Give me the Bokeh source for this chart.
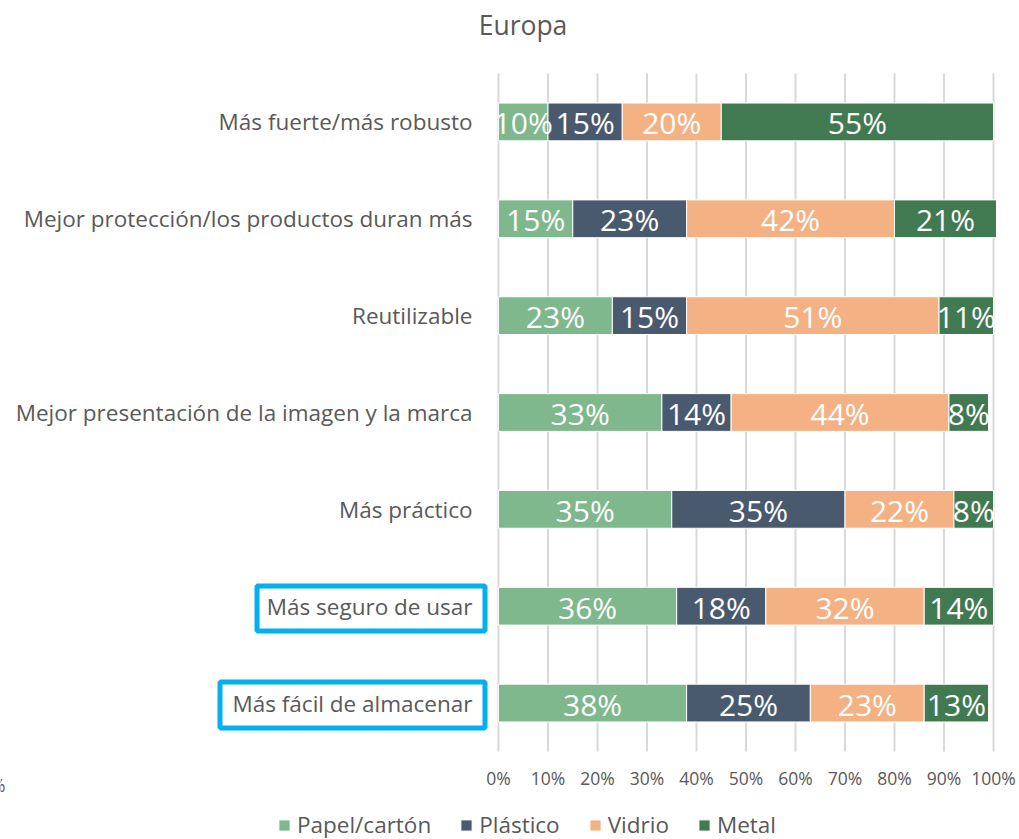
from bokeh.plotting import figure
from bokeh.models import Range1d, ColumnDataSource, Legend, LegendItem
from bokeh.embed import file_html
from bokeh.resources import INLINE
from bokeh.core.properties import value

# ---------------- data ----------------
categories = [
    "Más fuerte/más robusto",
    "Mejor protección/los productos duran más",
    "Reutilizable",
    "Mejor presentación de la imagen y la marca",
    "Más práctico",
    "Más seguro de usar",
    "Más fácil de almacenar",
]
papel = [10, 15, 23, 33, 35, 36, 38]
plastico = [15, 23, 15, 14, 35, 18, 25]
vidrio = [20, 42, 51, 44, 22, 32, 23]
metal = [55, 20.6, 11, 8, 8, 14, 13]
series_names = ["Papel/cartón", "Plástico", "Vidrio", "Metal"]
x_ticks = [0, 10, 20, 30, 40, 50, 60, 70, 80, 90, 100]
highlighted = ["Más seguro de usar", "Más fácil de almacenar"]
title_text = "Europa"

# ---------------- style / layout ----------------
colors = ["#7EB88C", "#495A6F", "#F4B183", "#417A51"]
FONT = "Open Sans"
GREY = "#595959"
W, H = 1019, 839
PLOT_L, PLOT_R, PLOT_T, PLOT_B = 498, 993, 73, 751   # pixel box of the value area
box_px = {"Más seguro de usar": (256.5, 484.5, 585.5, 630.5),
          "Más fácil de almacenar": (219.5, 484.5, 681.5, 727.5)}

n = len(categories)
xs = (PLOT_R - PLOT_L) / 100.0          # px per percent
ys = (PLOT_B - PLOT_T) / n              # px per category


def dx(px):
    return (px - PLOT_L) / xs


def dy(py):
    return (PLOT_B - py) / ys


keys = ["papel", "plastico", "vidrio", "metal"]
ypos = [n - 1 - i + 0.5 for i in range(n)]   # first category at the top
data = dict(cat=categories, y=ypos, papel=papel, plastico=plastico, vidrio=vidrio, metal=metal)
source = ColumnDataSource(data)

p = figure(width=W, height=H, x_range=Range1d(dx(0), dx(W)), y_range=Range1d(dy(H), dy(0)),
           output_backend="svg", toolbar_location=None, min_border=0,
           x_axis_type=None, y_axis_type=None, title=None)
p.outline_line_color = None
p.grid.grid_line_color = None

# vertical grid lines at the ticks
p.segment(x0=x_ticks, y0=[0] * len(x_ticks), x1=x_ticks, y1=[n] * len(x_ticks),
          line_color="#d9d9d9", line_width=2)

renderers = p.hbar_stack(keys, y="y", height=0.39, color=colors, source=source,
                         line_color="white", line_width=1)

# data labels (clipped at the 0 line like the original)
lx, ly, lt = [], [], []
for i in range(n):
    left = 0
    for k in keys:
        v = data[k][i]
        lx.append(left + v / 2)
        ly.append(ypos[i])
        lt.append(f"{round(v)}%")
        left += v
p.text(x="x", y="y", text="t", source=ColumnDataSource(dict(x=lx, y=ly, t=lt)),
       text_align="center", text_baseline="alphabetic", y_offset=1, text_color="white",
       text_font=value(FONT), text_font_size="30px")

# x tick labels
p.text(x=x_ticks, y=[0] * len(x_ticks), text=[f"{t}%" for t in x_ticks],
       text_align="center", text_baseline="alphabetic", y_offset=26,
       text_color=GREY, text_font=value(FONT), text_font_size="17.5px")

# category labels
p.text(x=[0] * n, y=ypos, text=categories, x_offset=-26, y_offset=0,
       text_align="right", text_baseline="alphabetic",
       text_color=GREY, text_font=value(FONT), text_font_size="22.5px")

# title
p.text(x=[dx(522.5)], y=[dy(24.7)], text=[title_text], text_align="center",
       text_baseline="alphabetic", text_color=GREY, text_font=value(FONT),
       text_font_size="26.5px")

# partial "%" from the neighbouring chart
p.text(x=[dx(5)], y=[dy(784)], text=["%"], text_align="right", text_baseline="alphabetic",
       text_color=GREY, text_font=value(FONT), text_font_size="17.5px")

# highlight boxes
for name in highlighted:
    l, r, t, b = box_px[name]
    p.quad(left=[dx(l)], right=[dx(r)], top=[dy(t)], bottom=[dy(b)],
           fill_alpha=0, line_color="#00B0F0", line_width=5)

# legend
items = [LegendItem(label=nm, renderers=[r]) for nm, r in zip(series_names, renderers)]
legend = Legend(items=items, orientation="horizontal", location=(277, -1),
                label_text_font=FONT, label_text_font_size="22.5px", label_text_color=GREY,
                glyph_width=14, glyph_height=14, label_standoff=6, spacing=28,
                padding=0, margin=0, border_line_color=None, background_fill_alpha=0)
p.add_layout(legend)

open("out.html", "w").write(file_html(p, INLINE))
